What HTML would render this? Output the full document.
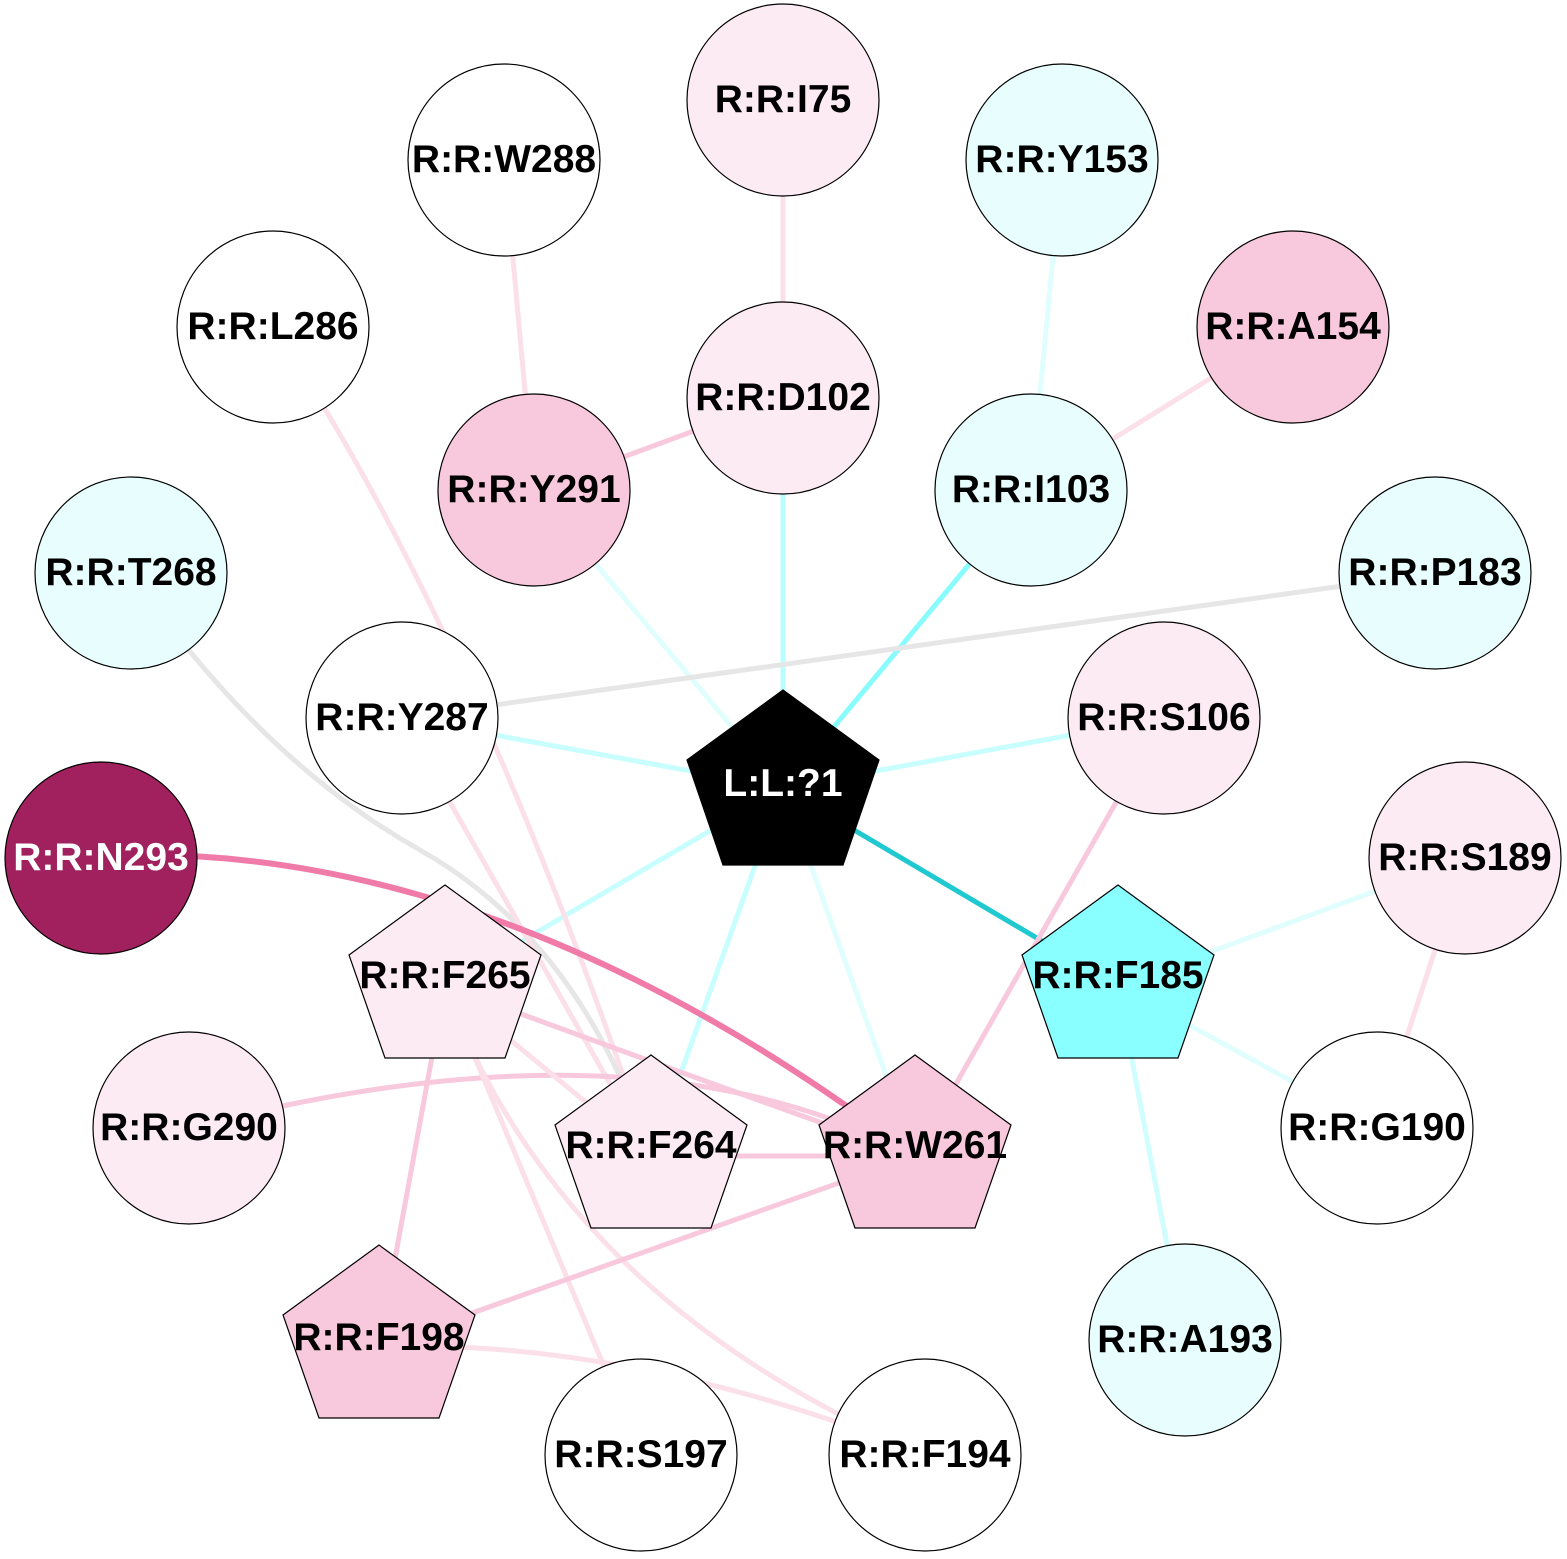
<!DOCTYPE html>
<html><head><meta charset="utf-8"><style>html,body{margin:0;padding:0;background:#fff}svg{display:block}</style></head>
<body>
<svg width="1567" height="1559" viewBox="0 0 1567 1559" xmlns="http://www.w3.org/2000/svg">
<g fill="none" stroke-width="5">
<line x1="783" y1="100" x2="783" y2="398" stroke="#fbe0ea"/>
<line x1="504" y1="160" x2="534" y2="490" stroke="#fbe0ea"/>
<line x1="1062" y1="160" x2="1031" y2="490" stroke="#e0fefe"/>
<line x1="1293" y1="327" x2="1031" y2="490" stroke="#fbe0ea"/>
<line x1="783" y1="398" x2="534" y2="490" stroke="#f8c8dc"/>
<line x1="783" y1="398" x2="783" y2="788" stroke="#b8fefe"/>
<line x1="1031" y1="490" x2="783" y2="788" stroke="#88fcfc"/>
<line x1="534" y1="490" x2="783" y2="788" stroke="#e0fefe"/>
<line x1="1435" y1="573" x2="402" y2="718" stroke="#e6e6e6"/>
<line x1="402" y1="718" x2="783" y2="788" stroke="#c8fefe"/>
<line x1="1164" y1="718" x2="783" y2="788" stroke="#c8fefe"/>
<line x1="783" y1="788" x2="1118" y2="986" stroke="#20c8d0"/>
<line x1="783" y1="788" x2="445" y2="986" stroke="#c8fefe"/>
<line x1="783" y1="788" x2="651" y2="1156" stroke="#c8fefe"/>
<line x1="783" y1="788" x2="915" y2="1156" stroke="#e0fefe"/>
<line x1="1164" y1="718" x2="915" y2="1156" stroke="#f8c8dc"/>
<path d="M273,327 Q470,620 651,1156" stroke="#fbe0ea"/>
<path d="M131,573 Q260,760 420,850 Q580,940 651,1156" stroke="#e6e6e6"/>
<line x1="402" y1="718" x2="651" y2="1156" stroke="#fbe0ea"/>
<path d="M445,986 Q700,1080 915,1156" stroke="#f8c8dc"/>
<path d="M189,1128 Q640,1010 915,1156" stroke="#f8c8dc"/>
<line x1="445" y1="986" x2="651" y2="1156" stroke="#fbe0ea"/>
<line x1="445" y1="986" x2="379" y2="1346" stroke="#f8c8dc"/>
<line x1="445" y1="986" x2="641" y2="1455" stroke="#fbe0ea"/>
<path d="M445,986 Q560,1300 925,1455" stroke="#fbe0ea"/>
<line x1="651" y1="1156" x2="915" y2="1156" stroke="#f8c8dc"/>
<line x1="915" y1="1156" x2="379" y2="1346" stroke="#f8c8dc"/>
<path d="M379,1346 Q640,1340 925,1455" stroke="#fbe0ea"/>
<line x1="1118" y1="986" x2="1465" y2="858" stroke="#e0fefe"/>
<line x1="1118" y1="986" x2="1377" y2="1128" stroke="#e0fefe"/>
<line x1="1118" y1="986" x2="1185" y2="1340" stroke="#d0fefe"/>
<line x1="1465" y1="858" x2="1377" y2="1128" stroke="#fbe0ea"/>
<path d="M101,855 Q500,840 915,1156" stroke="#f07aa8" stroke-width="6"/>
</g>
<g stroke="#000" stroke-width="1.2">
<circle cx="783" cy="100" r="96" fill="#fcebf2"/>
<circle cx="504" cy="160" r="96" fill="#fff"/>
<circle cx="1062" cy="160" r="96" fill="#e8fefe"/>
<circle cx="273" cy="327" r="96" fill="#fff"/>
<circle cx="1293" cy="327" r="96" fill="#f8c8dc"/>
<circle cx="783" cy="398" r="96" fill="#fcebf2"/>
<circle cx="534" cy="490" r="96" fill="#f8c8dc"/>
<circle cx="1031" cy="490" r="96" fill="#e8fefe"/>
<circle cx="131" cy="573" r="96" fill="#e8fefe"/>
<circle cx="1435" cy="573" r="96" fill="#e8fefe"/>
<circle cx="402" cy="718" r="96" fill="#fff"/>
<circle cx="1164" cy="718" r="96" fill="#fcebf2"/>
<circle cx="101" cy="858" r="96" fill="#a0215d"/>
<circle cx="1465" cy="858" r="96" fill="#fcebf2"/>
<circle cx="189" cy="1128" r="96" fill="#fcebf2"/>
<circle cx="1377" cy="1128" r="96" fill="#fff"/>
<circle cx="1185" cy="1340" r="96" fill="#e8fefe"/>
<circle cx="641" cy="1455" r="96" fill="#fff"/>
<circle cx="925" cy="1455" r="96" fill="#fff"/>
<polygon points="783,690 879,760 843,865 723,865 687,760" fill="#000"/>
<polygon points="1118,885 1214,955 1178,1058 1058,1058 1022,955" fill="#8affff"/>
<polygon points="445,885 541,955 505,1058 385,1058 349,955" fill="#fcebf2"/>
<polygon points="651,1055 747,1125 711,1228 591,1228 555,1125" fill="#fcebf2"/>
<polygon points="915,1055 1011,1125 975,1228 855,1228 819,1125" fill="#f8c8dc"/>
<polygon points="379,1245 475,1315 439,1418 319,1418 283,1315" fill="#f8c8dc"/>
</g>
<g font-family="Liberation Sans, Arial, sans-serif" font-weight="bold" font-size="39" text-anchor="middle" fill="#000">
<text x="783" y="112">R:R:I75</text>
<text x="504" y="172">R:R:W288</text>
<text x="1062" y="172">R:R:Y153</text>
<text x="273" y="339">R:R:L286</text>
<text x="1293" y="339">R:R:A154</text>
<text x="783" y="410">R:R:D102</text>
<text x="534" y="502">R:R:Y291</text>
<text x="1031" y="502">R:R:I103</text>
<text x="131" y="585">R:R:T268</text>
<text x="1435" y="585">R:R:P183</text>
<text x="402" y="730">R:R:Y287</text>
<text x="1164" y="730">R:R:S106</text>
<text x="783" y="796" fill="#fff">L:L:?1</text>
<text x="101" y="870" fill="#fff">R:R:N293</text>
<text x="1465" y="870">R:R:S189</text>
<text x="445" y="988">R:R:F265</text>
<text x="1118" y="988">R:R:F185</text>
<text x="189" y="1140">R:R:G290</text>
<text x="651" y="1158">R:R:F264</text>
<text x="915" y="1158">R:R:W261</text>
<text x="1377" y="1140">R:R:G190</text>
<text x="379" y="1350">R:R:F198</text>
<text x="1185" y="1352">R:R:A193</text>
<text x="641" y="1467">R:R:S197</text>
<text x="925" y="1467">R:R:F194</text>
</g>
</svg>
</body></html>
